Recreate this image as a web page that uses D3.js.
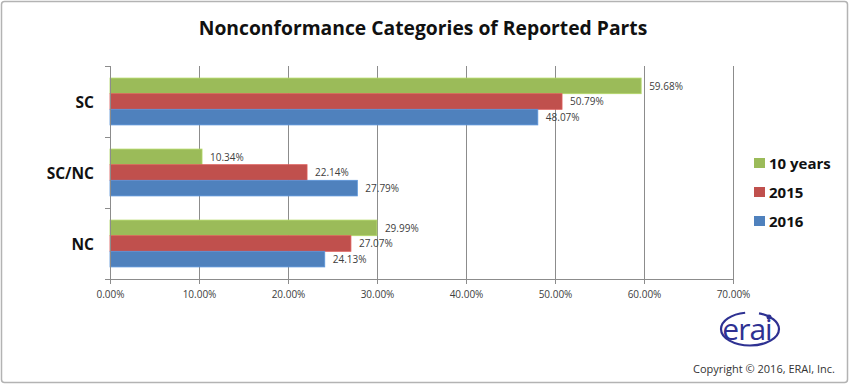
<!DOCTYPE html>
<html>
<head>
<meta charset="utf-8">
<script src="https://cdn.jsdelivr.net/npm/d3@7"></script>
<style>
  body { margin: 0; background: #fff; }
  svg { display: block; }
  .lbl { font-family: "Open Sans", "DejaVu Sans", sans-serif; font-size: 10px; fill: #404040; }
</style>
</head>
<body>
<script>
// categories and series, top to bottom
const categories = ["SC", "SC/NC", "NC"];
const seriesNames = ["10 years", "2015", "2016"];
const tenYears = [59.68, 10.34, 29.99];
const y2015 = [50.79, 22.14, 27.07];
const y2016 = [48.07, 27.79, 24.13];
const xTicks = [0, 10, 20, 30, 40, 50, 60, 70];
const colors = ["#9BBB59", "#C0504D", "#4F81BD"];

const W = 850, H = 385;
const svg = d3.select("body").append("svg")
    .attr("width", W)
    .attr("height", H);

// outer frame
svg.append("rect")
    .attr("x", 1.5).attr("y", 1.5)
    .attr("width", W - 4).attr("height", H - 4)
    .attr("rx", 3)
    .attr("fill", "#fff")
    .attr("stroke", "#b3b3b3")
    .attr("stroke-width", 1.5);

svg.append("text")
    .text("Nonconformance Categories of Reported Parts")
    .attr("x", 423).attr("y", 35)
    .attr("text-anchor", "middle")
    .style("font-family", "'Open Sans', sans-serif")
    .style("font-size", "19.3px")
    .style("font-weight", "bold")
    .style("fill", "#111");

const pLeft = 110, pRight = 733, pTop = 66, pBottom = 279;

const x = d3.scaleLinear().domain([0, 70]).range([pLeft, pRight]);
const y = d3.scaleBand().domain(categories).range([pTop, pBottom]).paddingInner(0.34).paddingOuter(0.17);
const ys = d3.scaleBand().domain(seriesNames).range([0, y.bandwidth()]);

// gridlines
svg.append("g").selectAll("line")
    .data(xTicks.slice(1))
    .join("line")
    .attr("x1", d => x(d) + 0.5).attr("x2", d => x(d) + 0.5)
    .attr("y1", pTop).attr("y2", pBottom)
    .attr("stroke", "#8c8c8c")
    .attr("stroke-width", 1);

const rows = categories.map((c, i) => ({cat: c, vals: [tenYears[i], y2015[i], y2016[i]]}));

const groups = svg.append("g").selectAll("g")
    .data(rows)
    .join("g")
    .attr("transform", d => `translate(0,${y(d.cat)})`);

groups.selectAll("rect")
    .data(d => d.vals.map((v, j) => ({v, s: seriesNames[j], j})))
    .join("rect")
    .attr("x", x(0))
    .attr("y", d => ys(d.s))
    .attr("width", d => x(d.v) - x(0))
    .attr("height", ys.bandwidth())
    .attr("fill", d => colors[d.j])
    .attr("stroke", d => d3.color(colors[d.j]).brighter(0.4))
    .attr("stroke-width", 0.8);

groups.selectAll("text")
    .data(d => d.vals.map((v, j) => ({v, s: seriesNames[j], j})))
    .join("text")
    .attr("class", "lbl")
    .attr("x", d => x(d.v) + 8)
    .attr("y", d => ys(d.s) + ys.bandwidth() / 2 + 4)
    .text(d => d.v.toFixed(2) + "%");

// x axis
const xAxis = svg.append("g")
    .attr("transform", `translate(0,${pBottom})`)
    .call(d3.axisBottom(x).tickValues(xTicks).tickSize(5).tickFormat(d => d.toFixed(2) + "%"));
xAxis.select(".domain").attr("stroke", "#8c8c8c").attr("d", `M${pLeft - 5},0.5H${pRight}`);
xAxis.selectAll(".tick line").attr("stroke", "#8c8c8c").attr("y1", -3).attr("y2", 5);
xAxis.selectAll(".tick text")
    .attr("y", 12)
    .style("font-family", "'Open Sans', sans-serif")
    .style("font-size", "10px")
    .style("fill", "#404040");

// y axis
const yAxis = svg.append("g")
    .attr("transform", `translate(${pLeft},0)`);
yAxis.append("line")
    .attr("x1", 0.5).attr("x2", 0.5).attr("y1", pTop).attr("y2", pBottom)
    .attr("stroke", "#8c8c8c");
yAxis.selectAll(".yt")
    .data([pTop, ...categories.map(c => y(c) + y.bandwidth() + y.paddingInner() * y.step() / 2)])
    .join("line")
    .attr("class", "yt")
    .attr("x1", -5).attr("x2", 0)
    .attr("y1", d => Math.round(d) + 0.5).attr("y2", d => Math.round(d) + 0.5)
    .attr("stroke", "#8c8c8c");
yAxis.selectAll(".ylab")
    .data(categories)
    .join("text")
    .attr("class", "ylab")
    .attr("x", -16)
    .attr("y", d => y(d) + y.bandwidth() / 2 + 6)
    .attr("text-anchor", "end")
    .style("font-family", "'Open Sans', sans-serif")
    .style("font-size", "15.5px")
    .style("font-weight", "bold")
    .style("fill", "#111")
    .text(d => d);

// legend
const legend = svg.append("g").selectAll("g")
    .data(seriesNames)
    .join("g")
    .attr("transform", (d, i) => `translate(754,${158 + i * 29})`);
legend.append("rect")
    .attr("width", 11).attr("height", 10)
    .attr("fill", (d, i) => colors[i]);
legend.append("text")
    .attr("x", 15).attr("y", 10.5)
    .style("font-family", "'Open Sans', sans-serif")
    .style("font-size", "15px")
    .style("font-weight", "bold")
    .style("fill", "#111")
    .text(d => d);

// erai logo
const logo = svg.append("g").attr("transform", "translate(750,329)");
logo.append("ellipse")
    .attr("rx", 29).attr("ry", 16.5)
    .attr("fill", "none")
    .attr("stroke", "#2e3192")
    .attr("stroke-width", 2.2)
    .attr("stroke-dasharray", "130 14")
    .attr("stroke-dashoffset", 26);
logo.append("circle")
    .attr("cx", 19).attr("cy", -12)
    .attr("r", 2.5)
    .attr("fill", "#2e3192");
logo.append("text")
    .attr("x", -3).attr("y", 11)
    .attr("text-anchor", "middle")
    .attr("letter-spacing", -1)
    .style("font-family", "'Open Sans', sans-serif")
    .style("font-size", "30px")
    .style("fill", "#2e3192")
    .text("erai");

svg.append("text")
    .attr("x", 835).attr("y", 373)
    .attr("text-anchor", "end")
    .style("font-family", "'Open Sans', sans-serif")
    .style("font-size", "11px")
    .style("fill", "#333")
    .text("Copyright \u00a9 2016, ERAI, Inc.");
</script>
</body>
</html>
